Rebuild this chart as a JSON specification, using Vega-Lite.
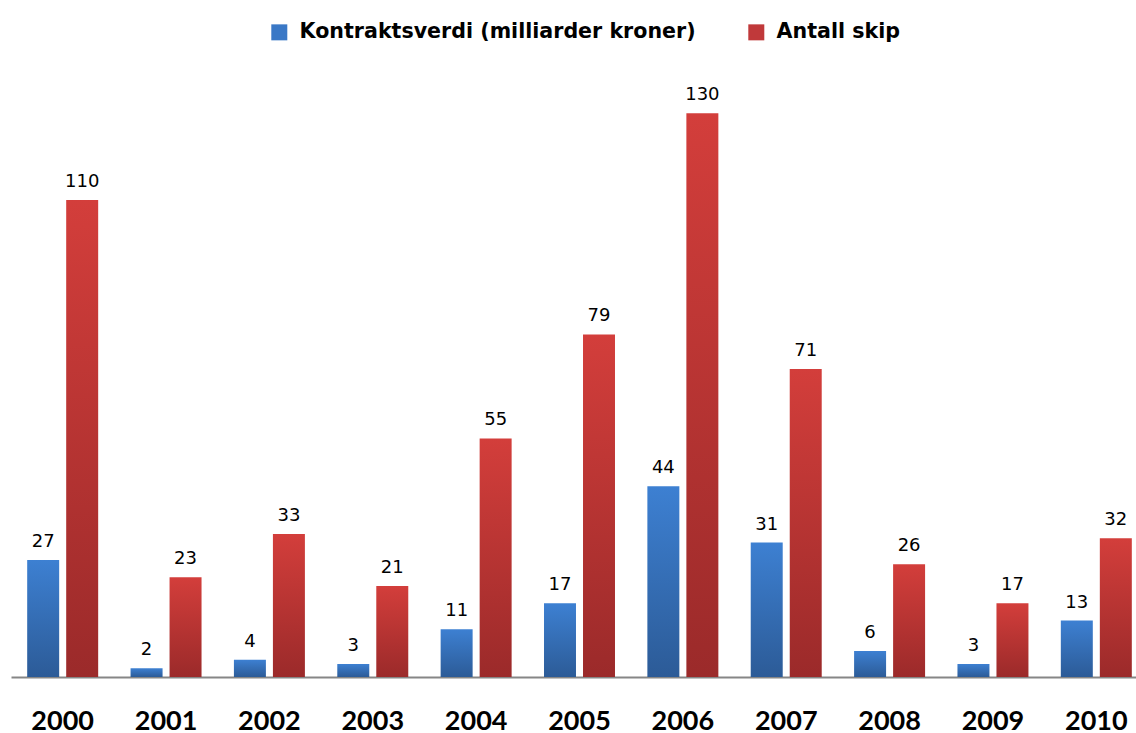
{
  "$schema": "https://vega.github.io/schema/vega-lite/v6.json",
  "width": 1137,
  "height": 667,
  "padding": {"left": 11, "top": 10, "right": 0, "bottom": 0},
  "background": "white",
  "config": {"view": {"stroke": null}},
  "data": {
    "values": [
      {"year": "2000", "series": "Kontraktsverdi (milliarder kroner)", "value": 27},
      {"year": "2001", "series": "Kontraktsverdi (milliarder kroner)", "value": 2},
      {"year": "2002", "series": "Kontraktsverdi (milliarder kroner)", "value": 4},
      {"year": "2003", "series": "Kontraktsverdi (milliarder kroner)", "value": 3},
      {"year": "2004", "series": "Kontraktsverdi (milliarder kroner)", "value": 11},
      {"year": "2005", "series": "Kontraktsverdi (milliarder kroner)", "value": 17},
      {"year": "2006", "series": "Kontraktsverdi (milliarder kroner)", "value": 44},
      {"year": "2007", "series": "Kontraktsverdi (milliarder kroner)", "value": 31},
      {"year": "2008", "series": "Kontraktsverdi (milliarder kroner)", "value": 6},
      {"year": "2009", "series": "Kontraktsverdi (milliarder kroner)", "value": 3},
      {"year": "2010", "series": "Kontraktsverdi (milliarder kroner)", "value": 13},
      {"year": "2000", "series": "Antall skip", "value": 110},
      {"year": "2001", "series": "Antall skip", "value": 23},
      {"year": "2002", "series": "Antall skip", "value": 33},
      {"year": "2003", "series": "Antall skip", "value": 21},
      {"year": "2004", "series": "Antall skip", "value": 55},
      {"year": "2005", "series": "Antall skip", "value": 79},
      {"year": "2006", "series": "Antall skip", "value": 130},
      {"year": "2007", "series": "Antall skip", "value": 71},
      {"year": "2008", "series": "Antall skip", "value": 26},
      {"year": "2009", "series": "Antall skip", "value": 17},
      {"year": "2010", "series": "Antall skip", "value": 32}
    ]
  },
  "encoding": {
    "x": {
      "field": "year", "type": "nominal", "title": null,
      "scale": {"paddingInner": 0, "paddingOuter": 0},
      "axis": {
        "labelAngle": 0, "labelFont": "Lato", "labelFontWeight": "bold", "labelFontSize": 27,
        "labelColor": "#000000", "ticks": false, "domainColor": "#868686", "domainWidth": 2,
        "labelPadding": 31
      }
    },
    "xOffset": {
      "field": "series", "type": "nominal",
      "scale": {"domain": ["Kontraktsverdi (milliarder kroner)", "Antall skip"], "paddingInner": 0.18, "paddingOuter": 0.415}
    },
    "y": {
      "field": "value", "type": "quantitative",
      "scale": {"domain": [0, 153.8], "nice": false, "zero": true},
      "axis": null
    }
  },
  "layer": [
    {
      "transform": [{"filter": "datum.series === 'Kontraktsverdi (milliarder kroner)'"}],
      "mark": {
        "type": "bar",
        "fill": {"gradient": "linear", "x1": 0, "y1": 0, "x2": 0, "y2": 1,
          "stops": [{"offset": 0, "color": "#3d80d2"}, {"offset": 1, "color": "#2c5b97"}]}
      }
    },
    {
      "transform": [{"filter": "datum.series === 'Antall skip'"}],
      "mark": {
        "type": "bar",
        "fill": {"gradient": "linear", "x1": 0, "y1": 0, "x2": 0, "y2": 1,
          "stops": [{"offset": 0, "color": "#d33e3b"}, {"offset": 1, "color": "#9b2a2a"}]}
      }
    },
    {
      "mark": {"type": "bar", "opacity": 0},
      "encoding": {
        "color": {
          "field": "series", "type": "nominal",
          "scale": {"domain": ["Kontraktsverdi (milliarder kroner)", "Antall skip"], "range": ["#3a78c6", "#c0393a"]},
          "legend": {
            "title": null, "orient": "none", "direction": "horizontal",
            "legendX": 258, "legendY": 12,
            "symbolType": "square", "symbolSize": 256, "symbolOpacity": 1, "symbolStrokeWidth": 0,
            "labelFont": "DejaVu Sans", "labelFontWeight": "bold", "labelFontSize": 20.6, "labelColor": "#000000",
            "labelOffset": 10, "columnPadding": 50, "labelLimit": 600
          }
        }
      }
    },
    {
      "mark": {"type": "text", "baseline": "bottom", "dy": -9, "font": "DejaVu Sans", "fontSize": 18, "color": "#000000"},
      "encoding": {"text": {"field": "value", "type": "quantitative"}}
    }
  ]
}
